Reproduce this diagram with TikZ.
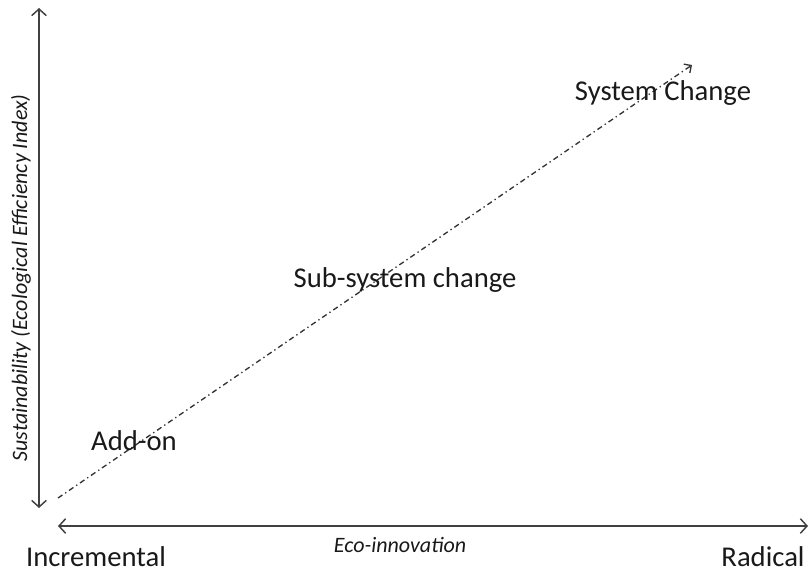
\documentclass[tikz,border=0pt]{standalone}
\usepackage{fontspec}
\setmainfont{Carlito}
\usetikzlibrary{positioning, arrows.meta}

\begin{document}
\begin{tikzpicture}[x=0.75pt,y=-0.75pt,
                    every node/.style={inner sep=0pt, text=black!90},
                    big/.style={font=\fontsize{21.5}{26}\selectfont},
                    small/.style={font=\fontsize{16.5}{20}\selectfont\itshape},
                    axis/.style={draw=black!75, line width=1.1pt,
                      {Straight Barb[length=5pt,width=11pt]}-{Straight Barb[length=5pt,width=11pt]}},
                    path/.style={draw=black!80, line width=1pt, dash pattern=on 4pt off 2.5pt on 1pt off 2.5pt,
                      -{Straight Barb[length=4pt,width=8pt]}}]
                  \useasboundingbox (0,0) rectangle (811,576);
                  \coordinate (ytop) at (39,8);
                  \coordinate (ybot) at (39,508);
                  \coordinate (xleft) at (58,526);
                  \coordinate (xright) at (808,526);
                  \coordinate (start) at (58,498);
                  \coordinate (stop) at (692,65);
                  \draw[axis] (ybot) -- (ytop);
                  \draw[axis] (xleft) -- (xright);
                  \draw[path] (start) -- (stop);
                  \node[big] (inc) at (96,557) {Incremental};
                  \node[big] (rad) at (763,557) {Radical};
                  \node[small] (eco) at (400,545) {Eco-innovation};
                  \node[small, rotate=90] (sus) at (21,278) {Sustainability (Ecological Efficiency Index)};
                  \node[big] (add) at (134,441) {Add-on};
                  \node[big] (sub) at (405,280) {Sub-system change};
                  \node[big] (sys) at (663,93) {System Change};
              \end{tikzpicture}
\end{document}
